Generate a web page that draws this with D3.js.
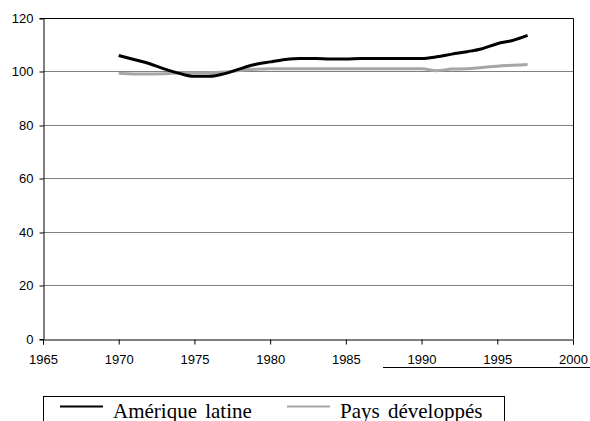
<!DOCTYPE html>
<html>
<head>
<meta charset="utf-8">
<script src="https://cdn.jsdelivr.net/npm/d3@7"></script>
<style>
  body { margin: 0; background: #fff; }
  svg { display: block; }
</style>
</head>
<body>
<div id="container"></div>
<script>
var years = d3.range(1970, 1998);
var ameriqueLatine = [106, 104.5, 103, 101, 99.3, 98.2, 98.2, 99.2, 101, 102.6, 103.6, 104.5, 104.9, 104.9, 104.7, 104.7,
                      104.9, 104.9, 104.9, 104.9, 104.9, 105.5, 106.5, 107.4, 108.5, 110.4, 111.6, 113.5];
var paysDeveloppes = [99.3, 99.1, 99.1, 99.2, 99.4, 99.5, 99.5, 99.8, 100.4, 100.8, 101, 101, 101, 101, 101, 101,
                      101, 101, 101, 101, 101, 100.3, 100.9, 101, 101.5, 102, 102.3, 102.6];
var yTicks = [0, 20, 40, 60, 80, 100, 120];
var xTicks = [1965, 1970, 1975, 1980, 1985, 1990, 1995, 2000];
var seriesNames = ["Amérique latine", "Pays développés"];
var seriesColors = ["#000000", "#a6a6a6"];

var width = 590, height = 421;
var margin = {left: 43, right: 17, top: 18, bottom: 82};

var svg = d3.select("#container")
    .append("svg")
    .attr("width", width)
    .attr("height", height);

var x = d3.scaleLinear().domain([1965, 2000]).range([margin.left, width - margin.right]);
var y = d3.scaleLinear().domain([0, 120]).range([height - margin.bottom, margin.top]);

// gridlines
svg.append("g")
    .selectAll("line")
    .data(yTicks.filter(function (d) { return d > 0 && d < 120; }))
    .enter().append("line")
    .attr("x1", x(1965)).attr("x2", x(2000))
    .attr("y1", function (d) { return Math.floor(y(d)) + 0.5; })
    .attr("y2", function (d) { return Math.floor(y(d)) + 0.5; })
    .attr("stroke", "#808080")
    .attr("stroke-width", 1);

// top and right border
svg.append("path")
    .attr("d", "M" + x(1965) + "," + (y(120) + 0.5) + "H" + (x(2000) + 0.5) + "V" + y(0))
    .attr("fill", "none")
    .attr("stroke", "#000")
    .attr("stroke-width", 1);

// axes
var yAxis = svg.append("g")
    .attr("transform", "translate(" + (x(1965) + 0.5) + ",0)")
    .call(d3.axisLeft(y).tickValues(yTicks).tickSize(4).tickPadding(6));
var xAxis = svg.append("g")
    .attr("transform", "translate(0," + (y(0) + 0.5) + ")")
    .call(d3.axisBottom(x).tickValues(xTicks).tickSize(5).tickPadding(10).tickFormat(d3.format("d")));

yAxis.selectAll(".tick line")
    .attr("transform", function (d) { return "translate(0," + (Math.floor(y(d)) + 0.5 - y(d)) + ")"; });

[yAxis, xAxis].forEach(function (a) {
    a.select(".domain").attr("stroke", "#000");
    a.selectAll(".tick line").attr("stroke", "#000");
    a.selectAll("text")
        .attr("fill", "#000")
        .style("font-family", "'Liberation Sans', Arial, sans-serif")
        .style("font-size", "13px");
});

// lines
var line = d3.line()
    .x(function (d, i) { return x(years[i]); })
    .y(function (d) { return y(d); })
    .curve(d3.curveMonotoneX);

[paysDeveloppes, ameriqueLatine].forEach(function (s, k) {
    svg.append("path")
        .datum(s)
        .attr("d", line)
        .attr("fill", "none")
        .attr("stroke", k === 0 ? seriesColors[1] : seriesColors[0])
        .attr("stroke-width", 3)
        .attr("stroke-linejoin", "round");
});

// stray underline below the axis labels
svg.append("line")
    .attr("x1", 383).attr("x2", 590)
    .attr("y1", 367.5).attr("y2", 367.5)
    .attr("stroke", "#000").attr("stroke-width", 1);

// legend
var legend = svg.append("g");
legend.append("rect")
    .attr("x", 43.5).attr("y", 396.5)
    .attr("width", 461).attr("height", 40)
    .attr("fill", "#fff")
    .attr("stroke", "#000");

var legendX = [60, 287];
seriesNames.forEach(function (name, i) {
    legend.append("line")
        .attr("x1", legendX[i]).attr("x2", legendX[i] + 43)
        .attr("y1", 406.5).attr("y2", 406.5)
        .attr("stroke", seriesColors[i])
        .attr("stroke-width", 2);
    legend.append("text")
        .attr("x", legendX[i] + 53)
        .attr("y", 418)
        .text(name)
        .style("font-family", "'Liberation Serif', 'Times New Roman', serif")
        .style("font-size", "21px")
        .style("word-spacing", "3px")
        .attr("fill", "#000");
});
</script>
</body>
</html>
